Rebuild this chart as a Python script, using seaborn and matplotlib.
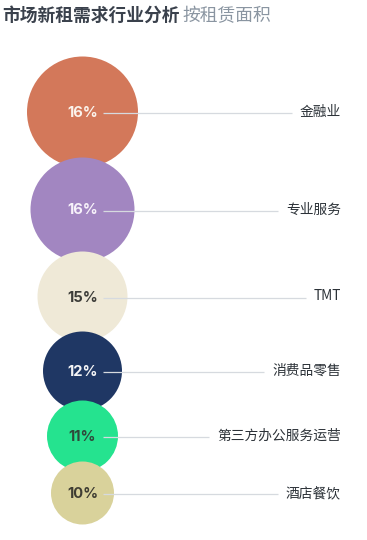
import matplotlib
matplotlib.use("Agg")
import matplotlib.pyplot as plt
import seaborn as sns
import pandas as pd

# ---- data ----
industries = ["金融业", "专业服务", "TMT", "消费品零售", "第三方办公服务运营", "酒店餐饮"]
shares = [16, 16, 15, 12, 11, 10]
share_labels = ["16%", "16%", "15%", "12%", "11%", "10%"]
title_main = "市场新租需求行业分析"
title_sub = "按租赁面积"

# ---- style / layout ----
colors = ["#D3785A", "#A286C1", "#EFE9D7", "#1F3764", "#25E38F", "#D9D29B"]
pct_colors = ["#FBF3EC", "#F7F2FA", "#3C3C38", "#F4F4F6", "#2F4A3B", "#3F3D33"]
bubble_r = [55.5, 52, 45, 39.5, 35.5, 31.5]  # px
overlap = 10
cx = 82.5
first_cy = 112
W, H, DPI = 367, 540, 100

cys = [first_cy]
for i in range(1, len(bubble_r)):
    cys.append(cys[-1] + bubble_r[i - 1] + bubble_r[i] - overlap)

df = pd.DataFrame({"industry": industries, "share": shares,
                   "x": [cx] * len(industries), "y": cys})

sns.set_theme(style="white")
plt.rcParams["font.family"] = ["Noto Sans CJK SC", "DejaVu Sans"]

fig = plt.figure(figsize=(W / DPI, H / DPI), dpi=DPI)
ax = fig.add_axes([0, 0, 1, 1])
ax.set_xlim(0, W)
ax.set_ylim(H, 0)
ax.axis("off")

sizes = {ind: (2 * r * 72 / DPI) ** 2 for ind, r in zip(industries, bubble_r)}
sns.scatterplot(data=df, x="x", y="y", hue="industry", palette=colors,
                size="industry", sizes=sizes, linewidth=0, legend=False,
                ax=ax, zorder=2)

label_right = 341
texts = []
for i, row in df.iterrows():
    t = ax.text(label_right, row["y"], row["industry"], ha="right", va="center",
                fontsize=9.9, color="#2C3238", zorder=4)
    texts.append(t)
    ax.text(row["x"], row["y"] + 1, share_labels[i], ha="center", va="center",
            fontsize=10.6, fontweight="bold", family=["Inter", "DejaVu Sans"],
            color=pct_colors[i], zorder=5)

fig.canvas.draw()
inv = ax.transData.inverted()
for i, t in enumerate(texts):
    bb = t.get_window_extent()
    x_left = inv.transform((bb.x0, bb.y0))[0]
    y = df["y"][i] + 1
    ax.plot([103, x_left - 8], [y, y], color="#D6DADF", lw=0.9, zorder=3,
            solid_capstyle="butt")

# title
t1 = ax.text(2, 16, title_main, ha="left", va="center", fontsize=12.8,
             fontweight="bold", color="#3A414C")
fig.canvas.draw()
bb = t1.get_window_extent()
x_end = inv.transform((bb.x1, bb.y0))[0]
ax.text(x_end + 3, 16, title_sub, ha="left", va="center", fontsize=12.8,
        fontweight="medium", color="#8A95A1")

fig.savefig("out.png", dpi=DPI, facecolor="white")
